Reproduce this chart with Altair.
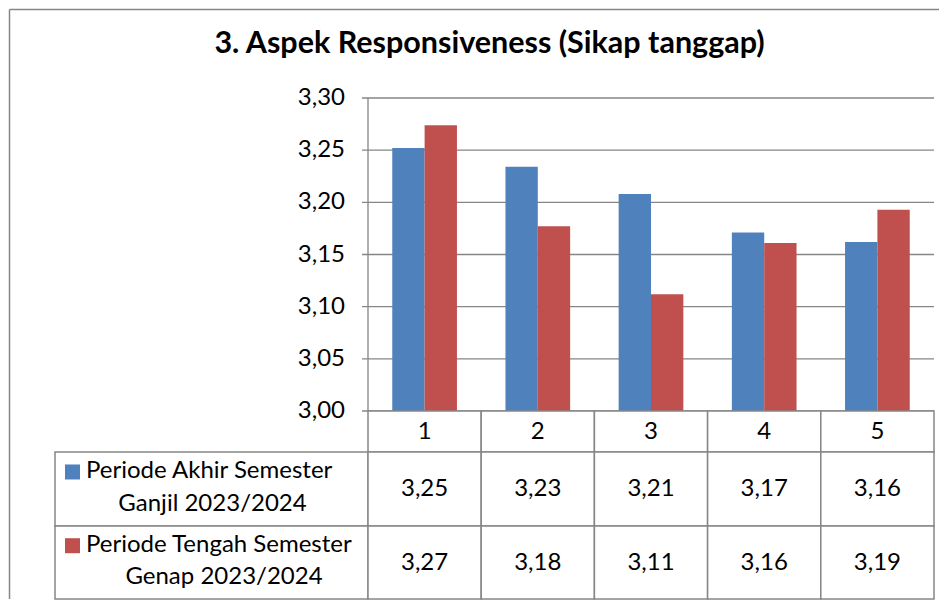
import altair as alt
import pandas as pd

# ---------------- data ----------------
categories = ["1", "2", "3", "4", "5"]
series_names = [
    "Periode Akhir Semester Ganjil 2023/2024",
    "Periode Tengah Semester Genap 2023/2024",
]
series_lines = [
    ["Periode Akhir Semester", "Ganjil 2023/2024"],
    ["Periode Tengah Semester", "Genap 2023/2024"],
]
akhir_ganjil = [3.252, 3.234, 3.208, 3.171, 3.162]
tengah_genap = [3.274, 3.177, 3.112, 3.161, 3.193]
y_ticks = [3.00, 3.05, 3.10, 3.15, 3.20, 3.25, 3.30]
title_text = "3. Aspek Responsiveness (Sikap tanggap)"

# ---------------- style / layout ----------------
series_colors = ["#4F81BD", "#C0504D"]
GRID = "#868686"
FONT = "Lato"
TXT = 24
TITLE_SIZE = 30.5
COL_PX = 113.2
LABEL_PX = 313
LBL = LABEL_PX / COL_PX
N = len(categories)
W = round(COL_PX * N + LABEL_PX)
H_PLOT = 313
H_HEAD = 41
H_ROWS = [74, 73]
BAR_W = 1 / 3.5
label_line2_center_px = [157.5, 169]  # from left edge of label cell
Y0, Y1 = 3.0, 3.3


def fmt(v):
    return f"{v:.2f}".replace(".", ",")


xs = alt.Scale(domain=[-LBL, N], nice=False, zero=False)
ys = alt.Scale(domain=[Y0, Y1], nice=False, zero=False)
cell_ys = alt.Scale(domain=[0, 1], nice=False, zero=False)

# ---------------- top chart: bars ----------------
bar_rows = []
for s, vals in enumerate([akhir_ganjil, tengah_genap]):
    for i, v in enumerate(vals):
        x0 = i + 0.5 - BAR_W + s * BAR_W
        bar_rows.append(dict(series=series_names[s], x0=x0, x1=x0 + BAR_W,
                             value=v, base=Y0))
df_bars = pd.DataFrame(bar_rows)

df_ticks = pd.DataFrame({
    "tick": y_ticks,
    "label": [fmt(t) for t in y_ticks],
    "gx0": [-6 / COL_PX] * len(y_ticks),
    "gx1": [N] * len(y_ticks),
    "ax": [0] * len(y_ticks),
})
df_axis = pd.DataFrame({"ax": [0], "y0": [Y0], "y1": [Y1]})
df_title = pd.DataFrame({"t": [title_text], "cx": [(N - LBL) / 2]})
one = pd.DataFrame({"a": [0]})

grid = alt.Chart(df_ticks).mark_rule(color=GRID, strokeWidth=1.3).encode(
    x=alt.X("gx0:Q", scale=xs, axis=None),
    x2="gx1:Q",
    y=alt.Y("tick:Q", scale=ys, axis=None),
)
yaxis = alt.Chart(df_axis).mark_rule(color=GRID, strokeWidth=1.3).encode(
    x=alt.X("ax:Q", scale=xs, axis=None),
    y=alt.Y("y0:Q", scale=ys, axis=None),
    y2="y1:Q",
)
ylabels = alt.Chart(df_ticks).mark_text(
    font=FONT, fontSize=TXT, align="right", baseline="middle", dx=-23, color="black"
).encode(
    x=alt.X("ax:Q", scale=xs, axis=None),
    y=alt.Y("tick:Q", scale=ys, axis=None),
    text="label:N",
)
bars = alt.Chart(df_bars).mark_bar().encode(
    x=alt.X("x0:Q", scale=xs, axis=None),
    x2="x1:Q",
    y=alt.Y("value:Q", scale=ys, axis=None),
    y2="base:Q",
    color=alt.Color("series:N", scale=alt.Scale(domain=series_names, range=series_colors), legend=None),
)
title = alt.Chart(df_title).mark_text(
    font=FONT, fontSize=TITLE_SIZE, fontWeight="bold", color="black",
    align="center", baseline="alphabetic", dx=-5
).encode(
    x=alt.X("cx:Q", scale=xs, axis=None),
    y=alt.value(-45),
    text="t:N",
)
frame_left = alt.Chart(one).mark_rule(color=GRID, strokeWidth=1.5).encode(
    x=alt.value(-45.5), y=alt.value(-88.5), y2=alt.value(H_PLOT + H_HEAD + sum(H_ROWS))
)
frame_top = alt.Chart(one).mark_rule(color=GRID, strokeWidth=1.5).encode(
    x=alt.value(-45.5), x2=alt.value(884), y=alt.value(-88.5)
)

top = alt.layer(frame_left, frame_top, grid, yaxis, bars, ylabels, title).properties(
    width=W, height=H_PLOT,
)

# ---------------- table: header row ----------------
df_head = pd.DataFrame({
    "cat": categories,
    "x0": list(range(N)),
    "x1": [i + 1 for i in range(N)],
    "xm": [i + 0.5 for i in range(N)],
    "y0": [0] * N, "y1": [1] * N, "ym": [0.5] * N,
})
head_cells = alt.Chart(df_head).mark_rect(fill="white", stroke=GRID, strokeWidth=1.5).encode(
    x=alt.X("x0:Q", scale=xs, axis=None), x2="x1:Q",
    y=alt.Y("y0:Q", scale=cell_ys, axis=None), y2="y1:Q",
)
head_text = alt.Chart(df_head).mark_text(font=FONT, fontSize=TXT, color="black", baseline="middle").encode(
    x=alt.X("xm:Q", scale=xs, axis=None),
    y=alt.Y("ym:Q", scale=cell_ys, axis=None),
    text="cat:N",
)
head = alt.layer(head_cells, head_text).properties(width=W, height=H_HEAD)


# ---------------- table: data rows ----------------
def data_row(s, vals):
    df_cells = pd.DataFrame({
        "x0": [-LBL] + list(range(N)),
        "x1": [0] + [i + 1 for i in range(N)],
        "y0": [0] * (N + 1), "y1": [1] * (N + 1),
    })
    df_vals = pd.DataFrame({
        "xm": [i + 0.5 for i in range(N)],
        "ym": [0.5] * N,
        "txt": [fmt(v) for v in vals],
    })
    df_lbl = pd.DataFrame({
        "series": [series_names[s]],
        "sx": [-LBL + 17.5 / COL_PX],
        "l1x": [-LBL + 31 / COL_PX],
        "l2x": [-LBL + label_line2_center_px[s] / COL_PX],
        "y1": [0.74], "y2": [0.30], "sy": [0.73],
        "line1": [series_lines[s][0]], "line2": [series_lines[s][1]],
    })
    cells = alt.Chart(df_cells).mark_rect(fill="white", stroke=GRID, strokeWidth=1.5).encode(
        x=alt.X("x0:Q", scale=xs, axis=None), x2="x1:Q",
        y=alt.Y("y0:Q", scale=cell_ys, axis=None), y2="y1:Q",
    )
    vtext = alt.Chart(df_vals).mark_text(font=FONT, fontSize=TXT, color="black", baseline="middle").encode(
        x=alt.X("xm:Q", scale=xs, axis=None),
        y=alt.Y("ym:Q", scale=cell_ys, axis=None),
        text="txt:N",
    )
    sq = alt.Chart(df_lbl).mark_square(size=225, opacity=1).encode(
        x=alt.X("sx:Q", scale=xs, axis=None),
        y=alt.Y("sy:Q", scale=cell_ys, axis=None),
        color=alt.Color("series:N", scale=alt.Scale(domain=series_names, range=series_colors), legend=None),
    )
    l1 = alt.Chart(df_lbl).mark_text(font=FONT, fontSize=TXT, color="black", baseline="middle", align="left").encode(
        x=alt.X("l1x:Q", scale=xs, axis=None),
        y=alt.Y("y1:Q", scale=cell_ys, axis=None),
        text="line1:N",
    )
    l2 = alt.Chart(df_lbl).mark_text(font=FONT, fontSize=TXT, color="black", baseline="middle", align="center").encode(
        x=alt.X("l2x:Q", scale=xs, axis=None),
        y=alt.Y("y2:Q", scale=cell_ys, axis=None),
        text="line2:N",
    )
    return alt.layer(cells, vtext, sq, l1, l2).properties(width=W, height=H_ROWS[s])


row1 = data_row(0, akhir_ganjil)
row2 = data_row(1, tengah_genap)

chart = alt.vconcat(top, head, row1, row2, spacing=0, bounds="flush").properties(
    padding=0
).configure_view(stroke=None)

chart.save("out.html", embed_options={"renderer": "svg", "actions": False})
